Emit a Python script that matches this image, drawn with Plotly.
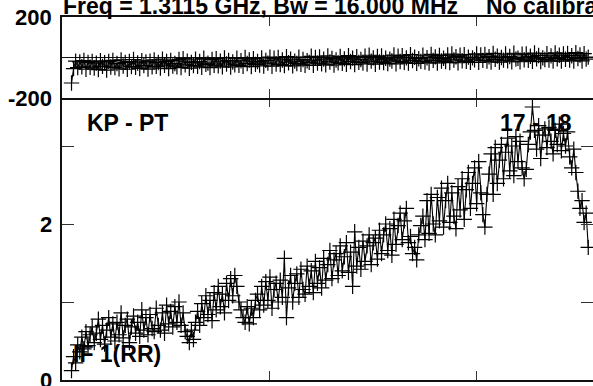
import plotly.graph_objects as go

# channels shown in the spectrum
channels = list(range(4, 255))

# amplitude per channel (bottom panel)
amplitude = [
    0.12, 0.30, 0.22, 0.45, 0.36, 0.55, 0.40, 0.62, 0.44, 0.58,
    0.68, 0.48, 0.60, 0.78, 0.52, 0.70, 0.46, 0.64, 0.80, 0.55,
    0.72, 0.50, 0.74, 0.58, 0.86, 0.54, 0.70, 0.78, 0.48, 0.68,
    0.82, 0.60, 0.74, 0.56, 0.90, 0.64, 0.80, 0.58, 0.84, 0.66,
    0.62, 0.92, 0.70, 0.64, 0.86, 0.60, 0.96, 0.72, 0.88, 0.68,
    0.94, 0.74, 1.00, 0.70, 0.86, 0.62, 0.56, 0.48, 0.64, 0.52,
    0.74, 0.88, 0.70, 0.98, 0.80, 1.08, 0.84, 1.02, 0.76, 1.12,
    0.90, 1.20, 0.94, 1.10, 0.86, 1.24, 1.02, 1.30, 1.08, 1.34,
    1.20, 1.00, 0.90, 0.80, 0.74, 0.94, 0.72, 0.92, 0.80, 1.02,
    1.10, 0.90, 1.20, 0.96, 1.26, 1.02, 1.32, 0.92, 1.16, 1.24,
    1.00, 1.28, 1.06, 1.56, 0.80, 1.18, 1.34, 1.00, 1.24, 1.36,
    1.06, 1.42, 1.16, 1.10, 1.46, 1.20, 1.40, 1.12, 1.52, 1.24,
    1.44, 1.18, 1.56, 1.28, 1.48, 1.66, 1.30, 1.54, 1.62, 1.34,
    1.72, 1.40, 1.58, 1.76, 1.38, 1.64, 1.20, 1.90, 1.46, 1.70,
    1.42, 1.78, 1.52, 1.72, 1.86, 1.48, 1.76, 1.82, 1.55, 1.92,
    1.62, 1.86, 2.00, 1.66, 1.94, 1.60, 2.06, 1.74, 1.98, 2.14,
    1.80, 2.04, 2.20, 1.76, 1.84, 1.62, 1.70, 1.54, 1.86, 1.98,
    2.10, 1.80, 2.30, 1.88, 2.38, 2.00, 1.86, 2.34, 2.04, 2.46,
    1.96, 2.30, 2.52, 2.02, 2.40, 2.10, 1.94, 2.48, 2.18, 2.58,
    2.06, 2.44, 2.66, 2.20, 2.52, 2.72, 2.26, 2.80, 2.40, 2.12,
    1.96, 2.38, 2.64, 2.90, 2.38, 2.98, 2.52, 2.82, 3.02, 2.58,
    2.92, 3.10, 2.68, 3.00, 2.62, 3.12, 2.80, 3.06, 2.72, 2.58,
    2.70, 3.02, 3.18, 3.50, 3.20, 2.96, 3.26, 2.84, 3.14, 3.22,
    2.98, 3.24, 3.06, 2.90, 3.20, 3.02, 3.28, 2.94, 3.16, 3.00,
    3.18, 2.86, 2.72, 2.96, 2.66, 2.42, 2.20, 2.30, 2.02, 2.14, 1.70,
]

# phase per channel in degrees (top panel)
phase = [
    -126, -55, -18, -50, -22, -46, -15, -58, -24, -48,
    -20, -52, -28, -60, -16, -44, -26, -62, -19, -47,
    -14, -50, -30, -56, -12, -42, -24, -58, -20, -45,
    -10, -48, -27, -54, -16, -40, -22, -57, -18, -46,
    -12, -44, -25, -52, -8, -38, -20, -55, -15, -42,
    -30, -46, -10, -50, -6, -36, -18, -53, -24, -40,
    -8, -43, -20, -48, -4, -34, -28, -50, -10, -38,
    -6, -41, -18, -46, -2, -32, -14, -47, -22, -36,
    -4, -39, -16, -44, 0, -30, -12, -45, -6, -34,
    -20, -37, -2, -42, -14, -28, 2, -43, -4, -32,
    0, -35, -12, -40, 4, -26, -8, -41, -18, -30,
    2, -33, -10, -38, -16, -24, 6, -39, 0, -28,
    3, -31, -8, -36, 8, -22, -5, -37, -12, -26,
    5, -29, -7, -34, 9, -20, -3, -35, 4, -24,
    -10, -27, 6, -32, 11, -18, -2, -33, 5, -22,
    8, -25, -4, -30, -8, -17, 12, -31, 7, -20,
    9, -24, -2, -28, 14, -15, 1, -29, -6, -19,
    11, -22, -1, -27, 15, -14, 3, -27, 10, -17,
    -4, -20, 12, -25, 17, -12, 4, -26, 11, -16,
    14, -19, 2, -24, -2, -11, 18, -24, 13, -14,
    15, -17, 4, -22, 20, -9, 7, -23, 0, -13,
    17, -16, 5, -21, 21, -8, -4, -21, 16, -11,
    18, -14, 6, -19, 22, -7, 10, -20, -2, -10,
    19, -13, 8, -18, 23, -6, 11, -18, 18, -9,
    20, -12, 9, -17, 24, -5, 12, -17, 19, -8, 2,
]

# labelled ticks on the two panels
amp_ticks = [0, 2]
phase_ticks = [-200, 200]

W, H = 593, 386
FONT = "Liberation Sans, Arial, sans-serif"

def px(x):
    return x / W

def py(y):
    return 1 - y / H

mk = dict(symbol="cross-thin", size=11, line=dict(width=1.2, color="black"))

fig = go.Figure()
fig.add_trace(go.Scatter(
    x=channels, y=amplitude, mode="lines+markers",
    line=dict(color="black", width=1.1), marker=mk,
    xaxis="x", yaxis="y", showlegend=False, hoverinfo="skip",
))
fig.add_trace(go.Scatter(
    x=channels, y=phase, mode="lines+markers",
    line=dict(color="black", width=1.1), marker=mk,
    xaxis="x2", yaxis="y2", showlegend=False, hoverinfo="skip",
))
# empty trace so the separator tick axis is drawn
fig.add_trace(go.Scatter(x=[], y=[], xaxis="x3", yaxis="y", showlegend=False))

line_style = dict(linecolor="#111", linewidth=1.5, showgrid=False, automargin=False)
tick_style = dict(ticks="inside", tickcolor="#333", tickwidth=1.2)
xdom = [px(62), 1]
xrange_ = [-0.6, 256.3]

fig.update_layout(
    width=W, height=H,
    margin=dict(l=0, r=0, t=0, b=0),
    paper_bgcolor="white", plot_bgcolor="white",
    # bottom panel: line only at the bottom
    xaxis=dict(
        domain=xdom, anchor="y", range=xrange_, showline=True, mirror=False,
        tickvals=[100, 200], ticklen=9, showticklabels=False, zeroline=False,
        **line_style, **tick_style,
    ),
    # bottom panel: ticks hanging from the separator, no extra line
    xaxis3=dict(
        domain=xdom, anchor="y", side="top", overlaying="x", range=xrange_,
        showline=False, tickvals=[100, 200], ticklen=9, showticklabels=False,
        zeroline=False, showgrid=False, automargin=False, **tick_style,
    ),
    # top panel: frame on top and bottom
    xaxis2=dict(
        domain=xdom, anchor="y2", range=xrange_, showline=True, mirror="ticks",
        tickvals=[100, 200], ticklen=9, showticklabels=False, zeroline=False,
        **line_style, **tick_style,
    ),
    yaxis=dict(
        domain=[py(380), py(98)], anchor="x",
        range=[0, (380 - 98) / 78], showline=True, mirror="ticks",
        tickvals=[0, 1, 2, 3], showticklabels=False,
        ticklen=12, zeroline=False,
        **line_style, **tick_style,
    ),
    yaxis2=dict(
        domain=[py(98), py(17)], anchor="x2",
        range=[-200, 200], showline=True, mirror="ticks",
        tickvals=phase_ticks, showticklabels=False,
        ticklen=12, zeroline=True, zerolinecolor="#111", zerolinewidth=1.2,
        **line_style, **tick_style,
    ),
)

# tick labels placed beside the left axis
for yref, vals in (("y", amp_ticks), ("y2", phase_ticks)):
    for v in vals:
        fig.add_annotation(
            text=str(v), xref="paper", yref=yref, x=px(54), y=v,
            xanchor="right", yanchor="middle", showarrow=False,
            font=dict(family=FONT, size=22, color="black", weight="bold"),
        )

def label(text, x, y, anchor):
    fig.add_annotation(
        text=text, xref="paper", yref="paper", x=px(x), y=py(y),
        xanchor=anchor, yanchor="middle", showarrow=False,
        font=dict(family=FONT, size=23, color="black", weight="bold"),
    )

label("Freq = 1.3115 GHz, Bw = 16.000 MHz", 61, 6.5, "left")
label("No calibration applied", 484, 6.5, "left")
label("KP - PT", 85, 123, "left")
label("17 - 18", 574, 123, "right")
label("IF 1(RR)", 71, 354, "left")

fig.write_html(
    "out.html",
    config={"displayModeBar": False},
    post_script="document.body.style.margin='0';",
)
